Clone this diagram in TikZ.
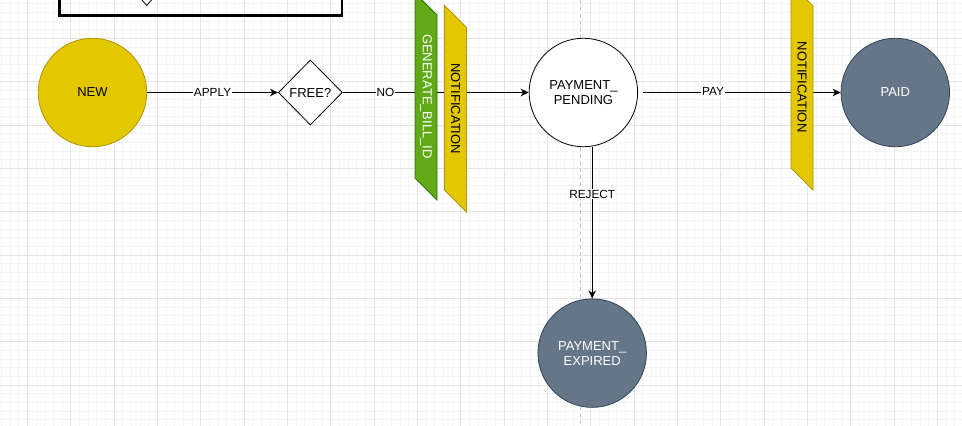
\documentclass[tikz,border=0pt]{standalone}
\usepackage{fontspec}
\setmainfont{Liberation Sans}
\usetikzlibrary{shapes.geometric, arrows.meta, positioning, calc}
\definecolor{newfill}{HTML}{E3C800}
\definecolor{newdraw}{HTML}{B09500}
\definecolor{greenfill}{HTML}{60A917}
\definecolor{greendraw}{HTML}{2D7600}
\definecolor{endfill}{HTML}{647687}
\definecolor{enddraw}{HTML}{314354}
\definecolor{minorline}{HTML}{F5F5F5}
\definecolor{majorline}{HTML}{E4E4E4}
\definecolor{guideline}{HTML}{C8C8C8}
\tikzset{
    statenode/.style={
        circle,
        draw=black,
        fill=white,
        thick,
        minimum size=108.5pt,
        inner sep=0pt,
        align=center,
        font=\fontsize{13}{15}\selectfont
    },
    newstate/.style={
        statenode,
        draw=newdraw,
        fill=newfill
    },
    endstate/.style={
        statenode,
        draw=enddraw,
        fill=endfill,
        text=white
    },
    choice/.style={
        diamond,
        draw=black,
        fill=white,
        thick,
        minimum width=64pt,
        minimum height=65pt,
        inner sep=0pt,
        font=\fontsize{13}{15}\selectfont
    },
    connection/.style={
        draw=black,
        line width=1pt,
        -{Stealth[length=8pt, width=7.5pt, inset=2.5pt]}
    },
    edgelabel/.style={
        fill=white,
        inner sep=1pt,
        font=\fontsize{11.8}{14}\selectfont
    },
    greentag/.style={
        draw=greendraw,
        fill=greenfill,
        line width=0.8pt
    },
    yellowtag/.style={
        draw=newdraw,
        fill=newfill,
        line width=0.8pt
    },
    taglabel/.style={
        rotate=-90,
        inner sep=0pt,
        font=\fontsize{13}{15}\selectfont
    },
    minorgrid/.style={draw=minorline, line width=0.7pt},
    majorgrid/.style={draw=majorline, line width=0.9pt},
    guide/.style={draw=guideline, line width=1pt, dash pattern=on 4pt off 3pt},
    frame/.style={draw=black, line width=2.6pt}
}

\begin{document}
\begin{tikzpicture}[x=1pt, y=-1pt]
\useasboundingbox (0,0) rectangle (962,426);
\clip (0,0) rectangle (962,426);
\fill[white] (0,0) rectangle (962,426);
% Grid
\foreach \i in {0,...,110} \draw[minorgrid] ({1.33+\i*8.6667},0) -- ++(0,426);
\foreach \j in {0,...,48} \draw[minorgrid] (0,{3.67+\j*8.6667}) -- ++(962,0);
\foreach \i in {0,...,21} \draw[majorgrid] ({27.33+\i*43.333},0) -- ++(0,426);
\foreach \j in {0,...,8} \draw[majorgrid] (0,{38.33+\j*43.333}) -- ++(962,0);
\draw[guide] (580,0) -- (580,426);

% Cut-off frame at the top
\draw[frame] (59.5,-10) rectangle (342,15.5);
\draw[thick] (141.5,-0.5) -- (146.7,5.5) -- (151.9,-0.5);

% States
\node[newstate] (new) at (92.5,92.5) {NEW};
\node[choice, right=130.8pt of new] (free) {FREE?};
\node[statenode, right=186pt of free] (pending) {PAYMENT\_\\PENDING};
\node[endstate, right=202.6pt of pending] (paid) {PAID};
\node[endstate, below=151.3pt of pending, xshift=8.8pt] (expired) {PAYMENT\_\\EXPIRED};

% Transitions
\draw[connection] (new) -- node[edgelabel] {APPLY} (free);
\draw[connection] (free) -- node[edgelabel, pos=0.23] {NO} (pending);
\draw[connection, shorten <=5pt] (pending) -- node[edgelabel, pos=0.37, yshift=1pt] {PAY} (paid);
\draw[connection] (expired.north |- pending.south) -- node[edgelabel, pos=0.31] {REJECT} (expired);

% Actions on transitions
\draw[greentag] (415,-7) -- (437,15) -- (437,200) -- (415,178) -- cycle;
\node[taglabel, text=white] (genbill) at (426,96.5) {GENERATE\_BILL\_ID};
\draw[yellowtag] (444.5,5.5) -- (466.5,27.5) -- (466.5,212) -- (444.5,190) -- cycle;
\node[taglabel] (notifyone) at (455.5,108.7) {NOTIFICATION};
\draw[yellowtag] (791,-16) -- (813,6) -- (813,190) -- (791,168) -- cycle;
\node[taglabel] (notifytwo) at (802,87) {NOTIFICATION};
\end{tikzpicture}
\end{document}
